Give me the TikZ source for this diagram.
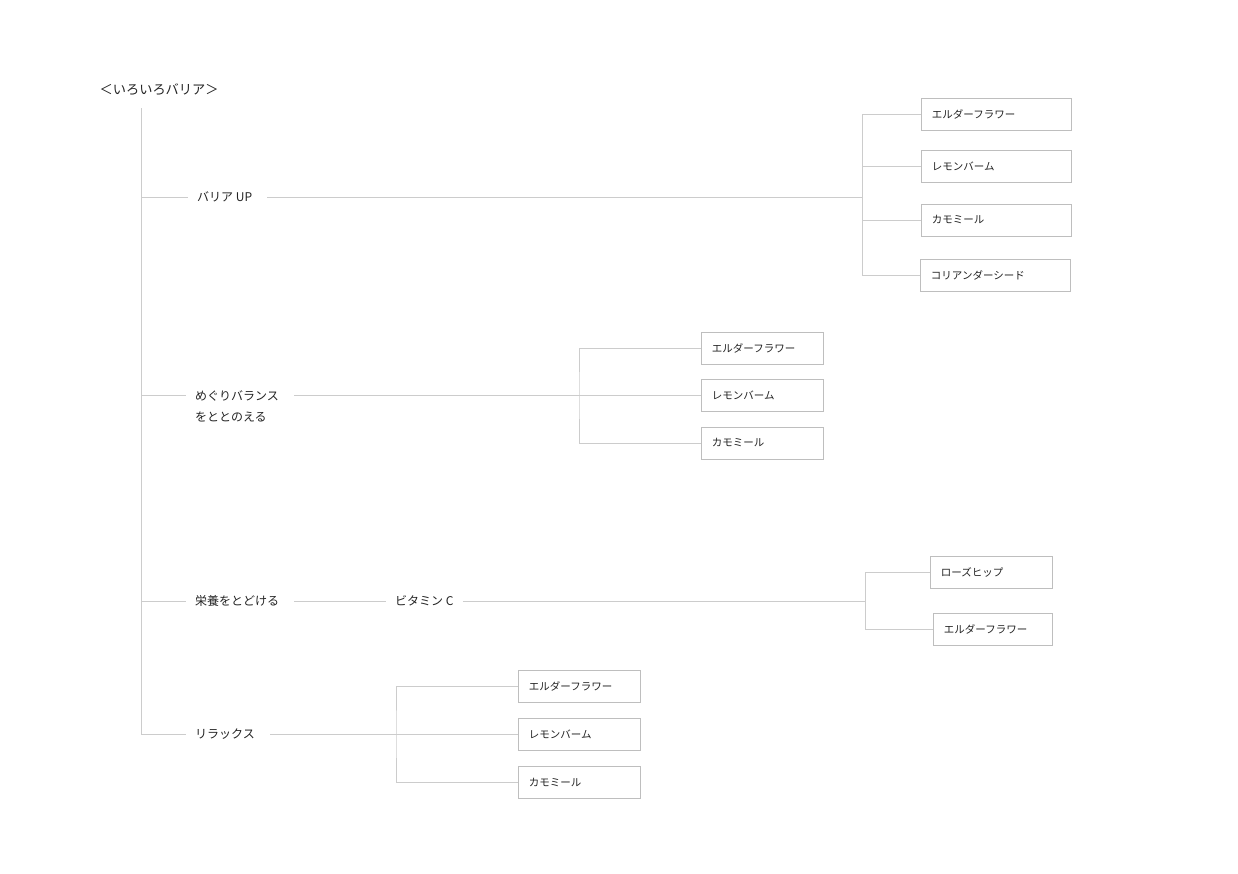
\documentclass[tikz,border=0pt]{standalone}
\usepackage{fontspec}
\setmainfont{Noto Sans CJK JP}
\definecolor{lineGray}{RGB}{204,204,204}
\definecolor{boxGray}{RGB}{190,190,190}
\definecolor{textGray}{RGB}{35,35,35}
\begin{document}
\begin{tikzpicture}[x=1pt, y=-1pt,
    lineStyle/.style={draw=lineGray, line width=0.9pt},
    labelStyle/.style={anchor=west, inner xsep=9pt, inner ysep=2pt, text=textGray, font=\fontsize{12}{21}\selectfont},
    herbBox/.style={draw=boxGray, line width=0.9pt, anchor=west, minimum height=32pt, inner xsep=10.5pt, text width=#1, align=left, text=textGray, font=\fontsize{10.5}{12}\selectfont}]
    \useasboundingbox (0,0) rectangle (1238,873);

    \node[anchor=west, inner sep=0pt, text=textGray, font=\fontsize{13.2}{15}\selectfont](title) at (99.5,89.5) {＜いろいろバリア＞};
    \coordinate (trunk) at (141,108);

    \node[labelStyle](lbl1) at (188,197) {バリア UP};
    \node[labelStyle, align=left](lbl2) at (186,406.5) {めぐりバランス\\をととのえる};
    \node[labelStyle](lbl3) at (186,601) {栄養をとどける};
    \node[labelStyle](vitC) at (386,601) {ビタミン C};
    \node[labelStyle](lbl4) at (186,734) {リラックス};

    \coordinate (j1) at (862,197);
    \coordinate (j2) at (579,395);
    \coordinate (j3) at (865,601);
    \coordinate (j4) at (396,734);

    \node[herbBox=129pt](b11) at (921,114.5) {エルダーフラワー};
    \node[herbBox=129pt](b12) at (921,166.5) {レモンバーム};
    \node[herbBox=129pt](b13) at (921,220) {カモミール};
    \node[herbBox=129pt](b14) at (920,275) {コリアンダーシード};

    \node[herbBox=101pt](b21) at (701,348) {エルダーフラワー};
    \node[herbBox=101pt](b22) at (701,395) {レモンバーム};
    \node[herbBox=101pt](b23) at (701,443) {カモミール};

    \node[herbBox=101pt](b31) at (930,572) {ローズヒップ};
    \node[herbBox=98pt](b32) at (933,629) {エルダーフラワー};

    \node[herbBox=101pt](b41) at (518,686) {エルダーフラワー};
    \node[herbBox=101pt](b42) at (518,734) {レモンバーム};
    \node[herbBox=101pt](b43) at (518,782) {カモミール};

    % trunk and branches
    \draw[lineStyle] (trunk) -- (trunk |- lbl4.west);
    \draw[lineStyle] (trunk |- lbl1.west) -- (lbl1.west);
    \draw[lineStyle] (trunk |- j2) -- (lbl2.west |- j2);
    \draw[lineStyle] (trunk |- lbl3.west) -- (lbl3.west);
    \draw[lineStyle] (trunk |- lbl4.west) -- (lbl4.west);

    \draw[lineStyle, shorten <=6pt] (lbl1.east) -- (j1);
    \draw[lineStyle] (b11.west) -| (j1) |- (b14.west);
    \draw[lineStyle] (j1 |- b12.west) -- (b12.west);
    \draw[lineStyle] (j1 |- b13.west) -- (b13.west);

    \draw[lineStyle, shorten <=6pt] (lbl2.east |- j2) -- (b22.west);
    \draw[lineStyle] (b21.west) -| (j2) |- (b23.west);

    \draw[lineStyle, shorten <=6pt] (lbl3.east) -- (vitC.west);
    \draw[lineStyle] (vitC.east) -- (j3);
    \draw[lineStyle] (b31.west) -| (j3) |- (b32.west);

    \draw[lineStyle, shorten <=6pt] (lbl4.east) -- (b42.west);
    \draw[lineStyle] (b41.west) -| (j4) |- (b43.west);
\end{tikzpicture}
\end{document}
